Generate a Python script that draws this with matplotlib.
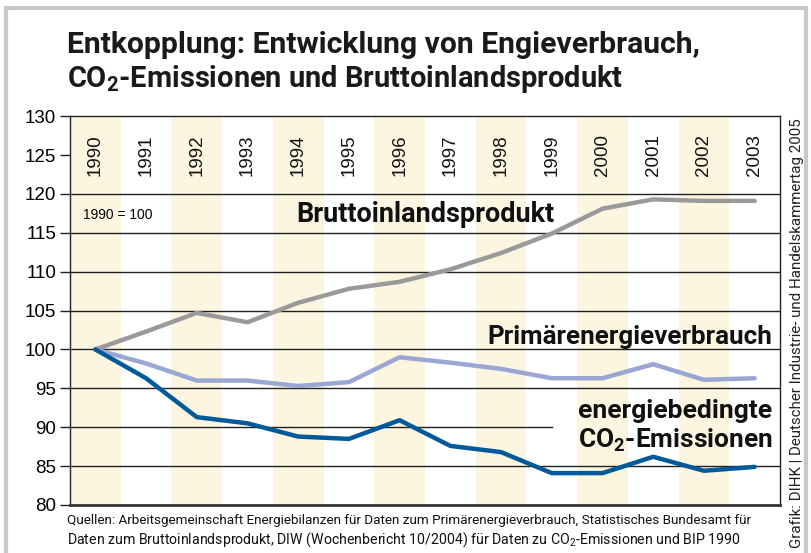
import matplotlib
matplotlib.use('Agg')
import matplotlib.pyplot as plt
from matplotlib.patches import Rectangle

#data (1990 = 100)
years = [1990, 1991, 1992, 1993, 1994, 1995, 1996, 1997, 1998, 1999, 2000, 2001, 2002, 2003]
bip = [100, 102.3, 104.7, 103.5, 106.0, 107.8, 108.7, 110.3, 112.4, 114.9, 118.1, 119.3, 119.1, 119.1]
pev = [100, 98.2, 96.0, 96.0, 95.3, 95.8, 99.0, 98.3, 97.5, 96.3, 96.3, 98.1, 96.1, 96.3]
co2 = [100, 96.3, 91.3, 90.5, 88.8, 88.5, 90.9, 87.6, 86.8, 84.1, 84.1, 86.2, 84.4, 84.9]
yticks = [80, 85, 90, 95, 100, 105, 110, 115, 120, 125, 130]
full_grid = [85, 95, 100, 105, 110, 115, 120]

plt.rcParams['font.family'] = ['Roboto', 'DejaVu Sans']
plt.rcParams['mathtext.fontset'] = 'custom'
plt.rcParams['mathtext.rm'] = 'Roboto'
plt.rcParams['mathtext.bf'] = 'Roboto:bold'

fig = plt.figure(figsize=(8.12, 5.53), dpi=100)
ax = fig.add_axes([0.0862, 0.0868, 0.8744, 0.7032])
renderer = fig.canvas.get_renderer()

def fit(t, width_px):
    #shrink or grow a text so it takes the given width in pixels
    w = t.get_window_extent(renderer).width
    t.set_fontsize(t.get_fontsize() * width_px / w)

#alternating column bands
for y in years[::2]:
    ax.axvspan(y - 0.5, y + 0.5, color='#fcf5e0', lw=0, zorder=0)

#grid lines
for g in full_grid:
    ax.axhline(g, color='#222222', lw=1, zorder=1)
ax.plot([1989.5, 1999.0], [90, 90], color='#222222', lw=1, zorder=1)

ax.plot(years, bip, color='#9a9a9a', lw=3.2, solid_capstyle='round', zorder=3)
ax.plot(years, pev, color='#9aa6d3', lw=3.2, solid_capstyle='round', zorder=3)
ax.plot(years, co2, color='#00599a', lw=3.2, solid_capstyle='round', zorder=4)

ax.set_xlim(1989.5, 2003.5)
ax.set_ylim(80, 130)
ax.set_yticks(yticks)
ax.set_yticklabels([str(t) for t in yticks], fontsize=13.5, family='Liberation Sans')
ax.set_xticks([])
ax.tick_params(axis='y', length=7, width=1, color='#222222', pad=3)
for s in ['left', 'right', 'top']:
    ax.spines[s].set_color('#222222')
    ax.spines[s].set_linewidth(1)
ax.spines['bottom'].set_color('#333333')
ax.spines['bottom'].set_linewidth(2)

#year labels in the top band
for y in years:
    ax.text(y, 125, str(y), rotation=90, ha='center', va='center',
            fontsize=13.5, family='Liberation Sans', color='#111111', zorder=5)

ax.text(1989.75, 117.3, '1990 = 100', fontsize=10, family='Liberation Sans', va='center')
t = ax.text(1996.5, 117.3, 'Bruttoinlandsprodukt', fontsize=19, fontweight='bold',
            ha='center', va='center', color='#111111')
fit(t, 258)
t = ax.text(2003.35, 101.6, 'Primärenergieverbrauch', fontsize=19, fontweight='bold',
            ha='right', va='center', color='#111111')
fit(t, 285)
t = ax.text(2003.35, 92.1, 'energiebedingte', fontsize=19, fontweight='bold',
            ha='right', va='center', color='#111111')
fit(t, 194)
t = ax.text(2003.35, 88.3, r'CO$_\mathbf{2}$-Emissionen', fontsize=19, fontweight='bold',
            ha='right', va='center', color='#111111')
fit(t, 194)

#title
t = fig.text(0.083, 0.918, 'Entkopplung: Entwicklung von Engieverbrauch,',
             fontsize=22, fontweight='bold', va='center', ha='left', color='#1a1a1a')
fit(t, 632)
t = fig.text(0.083, 0.857, r'CO$_\mathbf{2}$-Emissionen und Bruttoinlandsprodukt',
             fontsize=22, fontweight='bold', va='center', ha='left', color='#1a1a1a')
fit(t, 555)

#sources
t = fig.text(0.082, 0.058, 'Quellen: Arbeitsgemeinschaft Energiebilanzen für Daten zum Primärenergieverbrauch, '
             'Statistisches Bundesamt für', fontsize=10.5, va='center', ha='left', color='#111111')
fit(t, 690)
t = fig.text(0.082, 0.024, 'Daten zum Bruttoinlandsprodukt, DIW (Wochenbericht 10/2004) '
             'für Daten zu CO$_2$-Emissionen und BIP 1990',
             fontsize=10.5, va='center', ha='left', color='#111111')
fit(t, 678)

t = fig.text(0.981, 0.398, 'Grafik: DIHK | Deutscher Industrie- und Handelskammertag 2005',
             rotation=90, fontsize=9.5, ha='center', va='center', color='#222222')
w = t.get_window_extent(renderer).height
t.set_fontsize(t.get_fontsize() * 433 / w)

#outer frame
fig.patches.append(Rectangle((0.008, -0.02), 0.984, 1.005, transform=fig.transFigure,
                             fill=False, edgecolor='#c8c8c8', lw=3))

fig.savefig('out.png', dpi=100)
